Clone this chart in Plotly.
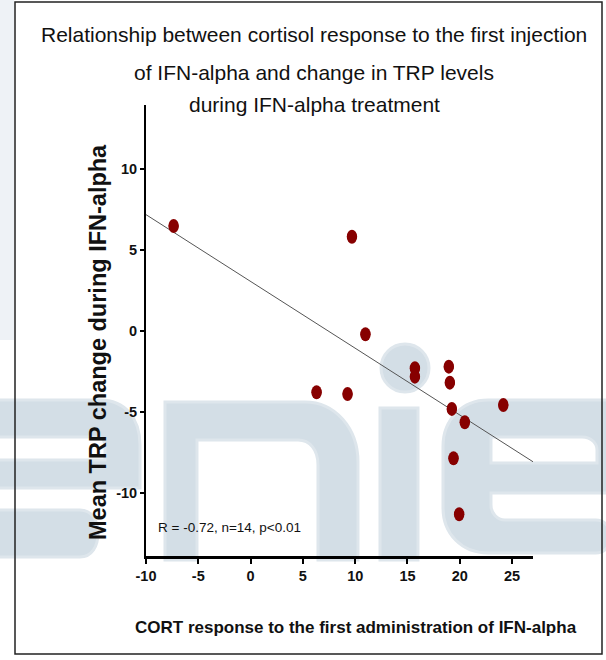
import re
import numpy as np
import plotly.graph_objects as go

# ---------------- data ----------------
cort_response = [-7.36, 6.31, 9.27, 9.69, 10.98, 15.71, 15.71, 18.95, 19.05, 19.24, 19.40, 19.94, 20.48, 24.16]
trp_change = [6.46, -3.80, -3.91, 5.80, -0.22, -2.32, -2.84, -2.22, -3.21, -4.83, -7.88, -11.33, -5.65, -4.59]
x_ticks = [-10, -5, 0, 5, 10, 15, 20, 25]
y_ticks = [-10, -5, 0, 5, 10]
title_lines = ["Relationship between cortisol response to the first injection",
               "of IFN-alpha and change in TRP levels",
               "during IFN-alpha treatment"]
x_title = "CORT response to the first administration of IFN-alpha"
y_title = "Mean TRP change during IFN-alpha"
stats_text = "R = -0.72, n=14, p<0.01"

# ---------------- layout geometry ----------------
W, H = 606, 660
ML, MR, MT, MB = 146, 73, 105, 104
PW, PH = W - ML - MR, H - MT - MB
X_RANGE = [-10, 27]
Y_RANGE = [-13.91, 13.93]

FONT = "Liberation Sans, Arial, sans-serif"


def px(xp):
    return (xp - ML) / PW


def py(yp):
    return (H - MB - yp) / PH


def pix_path(s):
    toks = re.findall(r'[MLCZ]|-?\d+\.?\d*', s)
    res, buf, isx = [], [], True
    for t in toks:
        if t in "MLCZ":
            if buf:
                res.append(" ".join(buf))
                buf = []
            res.append(t)
            isx = True
        else:
            v = float(t)
            buf.append(f"{px(v):.5f}" if isx else f"{py(v):.5f}")
            isx = not isx
    if buf:
        res.append(" ".join(buf))
    return " ".join(res)


# regression fit from the data
slope, intercept = np.polyfit(cort_response, trp_change, 1)
fit_x = np.array(X_RANGE, dtype=float)
fit_y = slope * fit_x + intercept

fig = go.Figure()
fig.add_trace(go.Scatter(x=fit_x, y=fit_y, mode="lines",
                         line=dict(color="#555555", width=1), hoverinfo="skip"))
fig.add_trace(go.Scatter(x=cort_response, y=trp_change, mode="markers",
                         marker=dict(color="#870000", size=10, line=dict(width=0))))

shapes = []
WM = "#D3DEE6"
WM_EDGE = "#DEE6EC"
# light strip left of the frame
shapes.append(dict(type="rect", xref="paper", yref="paper",
                   x0=px(0), x1=px(14), y0=py(340), y1=py(0),
                   fillcolor="#EEF2F6", line=dict(width=0), layer="below"))
wm_paths = [
    # left 'e' (partly off canvas)
    ("M -60 400 L 100 400 C 125 400 140 418 140 445 L 140 488 L -60 488 Z "
     "M -60 437 L 98 437 C 104 437 105 443 105 448 L 105 460 L -60 460 Z"),
    "M -60 510 L 80 510 C 92 510 98 521 98 533 C 98 546 92 557 80 557 L -60 557 Z",
    # 'n'
    ("M 165 560 L 165 402 L 305 402 C 335 402 358 428 358 462 L 358 560 L 318 560 "
     "L 318 465 C 318 450 310 440 298 440 L 197 440 L 197 560 Z"),
    # 'i' stem
    "M 380 560 L 380 408 L 418 408 L 418 560 Z",
    # right 'e'
    ("M 660 400 L 488 400 C 462 400 443 420 443 446 L 443 508 C 443 534 462 553 488 553 "
     "L 596 553 C 606 553 610 545 610 537 C 610 528 606 520 596 520 L 505 520 "
     "C 497 520 491 513 491 505 L 491 493 L 660 493 Z "
     "M 491 437 L 582 437 C 592 437 597 444 597 450 L 597 463 L 491 463 Z"),
]
for p in wm_paths:
    shapes.append(dict(type="path", xref="paper", yref="paper", path=pix_path(p),
                       fillcolor=WM, fillrule="evenodd",
                       line=dict(color=WM_EDGE, width=3), layer="below"))
# dot of the 'i'
shapes.append(dict(type="circle", xref="paper", yref="paper",
                   x0=px(381), x1=px(429), y0=py(392), y1=py(344),
                   fillcolor=WM, line=dict(color=WM_EDGE, width=3), layer="below"))
# outer frame
shapes.append(dict(type="rect", xref="paper", yref="paper",
                   x0=px(15), x1=px(602), y0=py(654), y1=py(2),
                   line=dict(color="#222222", width=1.5), fillcolor="rgba(0,0,0,0)", layer="below"))

# elliptical markers anchored on the data points
for xv, yv in zip(cort_response, trp_change):
    shapes.append(dict(type="circle", xref="x", yref="y", xsizemode="pixel", ysizemode="pixel",
                       xanchor=xv, yanchor=yv, x0=-5.2, x1=5.2, y0=-7, y1=7,
                       fillcolor="#870000", line=dict(width=0), layer="above"))

annotations = []
title_y = [35, 73, 104]
for txt, yy in zip(title_lines, title_y):
    annotations.append(dict(text=txt, xref="paper", yref="paper", x=px(314), y=py(yy),
                            xanchor="center", yanchor="middle", showarrow=False,
                            font=dict(family=FONT, size=21, color="#111111")))
annotations.append(dict(text="<b>" + y_title + "</b>", xref="paper", yref="paper",
                        x=px(98), y=py(342), xanchor="center", yanchor="middle",
                        textangle=-90, showarrow=False,
                        font=dict(family=FONT, size=23.5, color="#111111")))
annotations.append(dict(text="<b>" + x_title + "</b>", xref="paper", yref="paper",
                        x=px(356), y=py(627), xanchor="center", yanchor="middle",
                        showarrow=False, font=dict(family=FONT, size=17, color="#111111")))
annotations.append(dict(text=stats_text, xref="paper", yref="paper",
                        x=px(156), y=py(527), xanchor="left", yanchor="middle",
                        showarrow=False, font=dict(family=FONT, size=13.5, color="#111111")))

fig.update_layout(
    width=W, height=H,
    margin=dict(l=ML, r=MR, t=MT, b=MB, pad=0, autoexpand=False),
    paper_bgcolor="white", plot_bgcolor="rgba(0,0,0,0)",
    showlegend=False,
    shapes=shapes, annotations=annotations,
    xaxis=dict(range=X_RANGE, tickvals=x_ticks, ticktext=[f"<b>{v}</b>" for v in x_ticks],
               showgrid=False, zeroline=False, showline=True, linecolor="black", linewidth=3,
               ticks="outside", ticklen=5, tickwidth=2, tickcolor="black", automargin=False,
               tickfont=dict(family=FONT, size=14.5, color="#111111")),
    yaxis=dict(range=Y_RANGE, tickvals=y_ticks, ticktext=[f"<b>{v}</b>" for v in y_ticks],
               showgrid=False, zeroline=False, showline=True, linecolor="black", linewidth=2,
               ticks="outside", ticklen=4, tickwidth=1.5, tickcolor="black", automargin=False,
               tickfont=dict(family=FONT, size=14.5, color="#111111")),
)

fig.write_html("out.html", config={"displayModeBar": False},
               post_script="document.body.style.margin='0px';document.body.style.padding='0px';")
